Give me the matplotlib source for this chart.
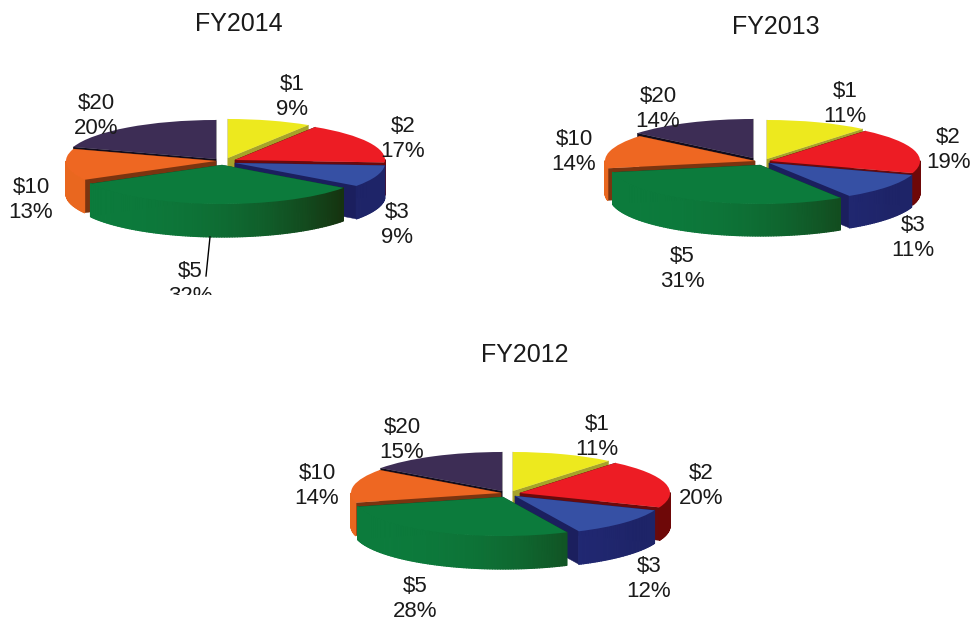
import numpy as np
import matplotlib
matplotlib.use("Agg")
import matplotlib.pyplot as plt
import matplotlib.transforms as mtransforms
from matplotlib.collections import PolyCollection
from matplotlib.colors import to_rgb

plt.rcParams['font.family'] = ['Liberation Sans', 'DejaVu Sans']

W, H = 972, 620

# ---- data ----
denominations = ['$1', '$2', '$3', '$5', '$10', '$20']
fy2014 = [9, 17, 9, 32, 13, 20]
fy2013 = [11, 19, 11, 31, 14, 14]
fy2012 = [11, 20, 12, 28, 14, 15]

# ---- style ----
top_colors = ['#EDE91E', '#ED1C24', '#3650A4', '#0C7B3C', '#EE6722', '#3D2D55']
rim_left = ['#8F8E20', '#8A0F12', '#232C7E', '#0C7B3C', '#E9671F', '#1A1326']
rim_right = ['#8F8E20', '#6E0808', '#1E2468', '#16320F', '#E9671F', '#1A1326']
cut_colors = ['#A6A32A', '#6A0A0C', '#1B1F5E', '#0A4F28', '#7A3410', '#120C1C']
paint_order = [0, 5, 4, 1, 2, 3]

panels = [
    dict(title='FY2014', values=fy2014, title_xy=(239, 24), bounds=(0, 0, 460, 295),
         rx=150, ry=39, depth=33,
         apex=[(228, 158), (235, 160), (235, 163), (222, 165), (216, 161), (216, 159)],
         label_xy=[(292, 97), (403, 139), (397, 225), (190, 284), (31, 200), (96, 116)],
         leader=[(210, 237), (206, 276)]),
    dict(title='FY2013', values=fy2013, title_xy=(776, 27), bounds=(520, 0, 972, 300),
         rx=150, ry=39, depth=32,
         apex=[(767, 159), (770, 161), (769, 163), (760, 165), (755, 161), (753, 158)],
         label_xy=[(845, 104), (948, 150), (913, 238), (682, 269), (574, 152), (658, 109)],
         leader=None),
    dict(title='FY2012', values=fy2012, title_xy=(525, 355), bounds=(270, 330, 750, 620),
         rx=150, ry=39, depth=33,
         apex=[(513, 491), (520, 493), (515, 496), (503, 497), (501, 493), (502, 491)],
         label_xy=[(597, 437), (701, 486), (649, 579), (415, 599), (317, 486), (402, 440)],
         leader=None),
]

fig = plt.figure(figsize=(W / 100, H / 100), dpi=100, facecolor='white')
px = mtransforms.Affine2D().scale(1 / W, -1 / H).translate(0, 1) + fig.transFigure


def extrude(wedge, idx, depth, base_z, ax):
    cx, cy = wedge.center
    r = wedge.r
    t1, t2 = np.deg2rad(wedge.theta1), np.deg2rad(wedge.theta2)
    cuts = []
    for t in (t1, t2):
        ex, ey = cx + r * np.cos(t), cy + r * np.sin(t)
        cuts.append([(cx, cy), (ex, ey), (ex, ey - depth), (cx, cy - depth)])
    ax.add_collection(PolyCollection(cuts, facecolors=cut_colors[idx], edgecolors=cut_colors[idx],
                                     linewidths=0.3, zorder=base_z + 1))
    ts = np.linspace(t1, t2, max(2, int(np.degrees(t2 - t1)) + 1))
    ts = [(a, b) for a, b in zip(ts[:-1], ts[1:]) if np.sin((a + b) / 2) < 0]
    if not ts:
        return
    c0, c1 = np.array(to_rgb(rim_left[idx])), np.array(to_rgb(rim_right[idx]))
    polys, cols = [], []
    for a, b in ts:
        xa, ya = cx + r * np.cos(a), cy + r * np.sin(a)
        xb, yb = cx + r * np.cos(b), cy + r * np.sin(b)
        polys.append([(xa, ya), (xb, yb), (xb, yb - depth), (xa, ya - depth)])
        f = min(1.0, ((xa - cx) / r + 1) / 1.81)
        cols.append(tuple(c0 + (c1 - c0) * f ** 2.6))
    ax.add_collection(PolyCollection(polys, facecolors=cols, edgecolors=cols,
                                     linewidths=0.9, zorder=base_z + 2))


for p in panels:
    x0, y0, x1, y1 = p['bounds']
    ax = fig.add_axes([x0 / W, 1 - y1 / H, (x1 - x0) / W, (y1 - y0) / H])
    wedges, _ = ax.pie(p['values'], colors=top_colors, startangle=90, counterclock=False,
                       radius=1, wedgeprops={'linewidth': 0})
    ax.set_aspect('auto')
    # one data unit = one radius, with the origin at the apex of the $5 slice
    cx, cy = p['apex'][3]
    ax.set_xlim((x0 - cx) / p['rx'], (x1 - cx) / p['rx'])
    ax.set_ylim((cy - y1) / p['ry'], (cy - y0) / p['ry'])
    depth = p['depth'] / p['ry']
    for idx, (ax_px, ay_px) in enumerate(p['apex']):
        wedges[idx].set_center(((ax_px - cx) / p['rx'], (cy - ay_px) / p['ry']))
    for rank, idx in enumerate(paint_order):
        z = 10 + rank * 10
        extrude(wedges[idx], idx, depth, z, ax)
        wedges[idx].set_zorder(z + 3)
    for name, val, (lx, ly) in zip(denominations, p['values'], p['label_xy']):
        ax.text(lx, ly, f'{name}\n{val}%', transform=px, ha='center', va='center',
                fontsize=16, linespacing=1.22, color='#1a1a1a', zorder=200, clip_on=True)
    ax.text(*p['title_xy'], p['title'], transform=px, ha='center', va='center',
            fontsize=18, color='#1a1a1a', zorder=200)
    if p['leader']:
        (ax_, ay_), (bx_, by_) = p['leader']
        ax.plot([ax_, bx_], [ay_, by_], transform=px, color='black', lw=1, zorder=150)

fig.savefig('out.png', dpi=100)
